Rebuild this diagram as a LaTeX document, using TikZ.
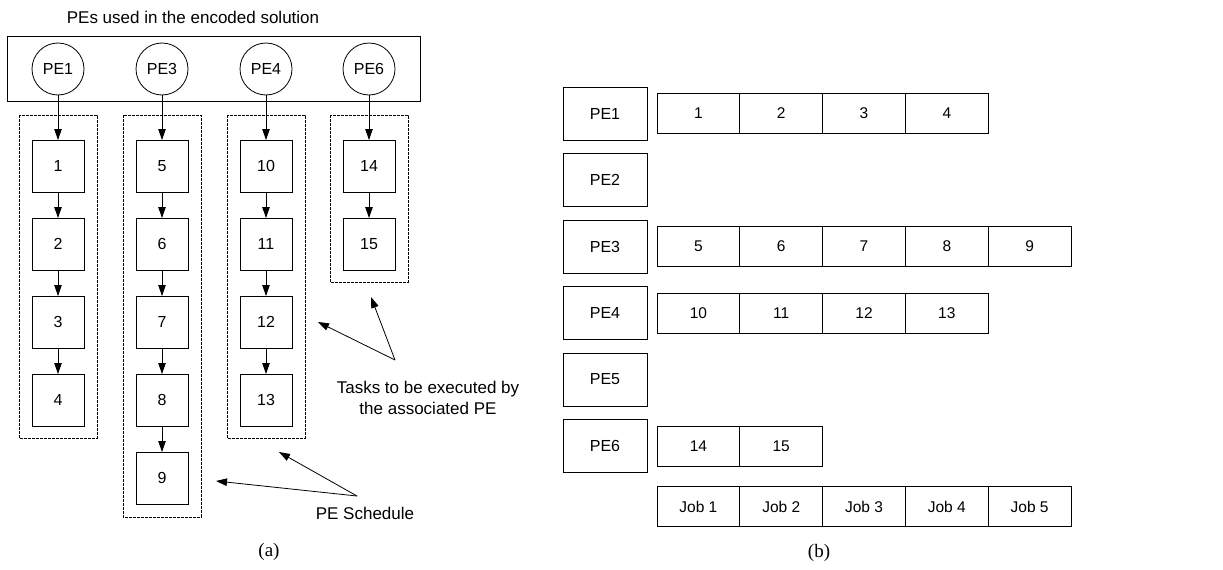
\documentclass[tikz,border=0pt]{standalone}
\usepackage{fontspec}
\setmainfont{Liberation Sans}
\newfontfamily\capfont{Liberation Serif}
\usetikzlibrary{positioning, arrows.meta}

\tikzstyle{pecircle} = [circle, minimum size=52pt, inner sep=0pt, draw=black, line width=0.8pt, font=\fontsize{16}{19}\selectfont]
\tikzstyle{task} = [rectangle, minimum width=52pt, minimum height=52pt, outer sep=0pt, draw=black, line width=0.8pt, font=\fontsize{16}{19}\selectfont]
\tikzstyle{schedbox} = [draw=black, line width=0.6pt, dash pattern=on 2.6pt off 1.4pt]
\tikzstyle{arrow} = [line width=0.8pt, -{Triangle[length=11pt,width=7.5pt]}]
\tikzstyle{pebox} = [rectangle, minimum width=84pt, minimum height=53pt, outer sep=0pt, draw=black, line width=0.8pt, font=\fontsize{16}{19}\selectfont]
\tikzstyle{slot} = [rectangle, minimum width=82.8pt, minimum height=40pt, outer sep=0pt, draw=black, line width=0.8pt, font=\fontsize{15.5}{18}\selectfont]
\tikzstyle{note} = [align=center, font=\fontsize{17}{21}\selectfont]
\tikzstyle{caption} = [font=\capfont\fontsize{19}{22}\selectfont]

\begin{document}
\begin{tikzpicture}[x=1pt, y=-1pt]
\useasboundingbox (0,0) rectangle (1223,570);

% (a) encoded solution
\node (title) [note] at (193,17) {PEs used in the encoded solution};
\node (pebar) [rectangle, draw=black, line width=0.8pt, minimum width=413pt, minimum height=65pt] at (213.5,68.5) {};

\node (pe1) [pecircle] at (58,69) {PE1};
\node (pe3) [pecircle] at (162,69) {PE3};
\node (pe4) [pecircle] at (266,69) {PE4};
\node (pe6) [pecircle] at (369,69) {PE6};

\node (t1) [task] at (58,166) {1};
\node (t2) [task, below=26pt of t1] {2};
\node (t3) [task, below=26pt of t2] {3};
\node (t4) [task, below=26pt of t3] {4};
\draw [arrow] (pe1) -- (t1);
\draw [arrow] (t1) -- (t2);
\draw [arrow] (t2) -- (t3);
\draw [arrow] (t3) -- (t4);

\node (t5) [task] at (162,166) {5};
\node (t6) [task, below=26pt of t5] {6};
\node (t7) [task, below=26pt of t6] {7};
\node (t8) [task, below=26pt of t7] {8};
\node (t9) [task, below=26pt of t8] {9};
\draw [arrow] (pe3) -- (t5);
\draw [arrow] (t5) -- (t6);
\draw [arrow] (t6) -- (t7);
\draw [arrow] (t7) -- (t8);
\draw [arrow] (t8) -- (t9);

\node (t10) [task] at (266,166) {10};
\node (t11) [task, below=26pt of t10] {11};
\node (t12) [task, below=26pt of t11] {12};
\node (t13) [task, below=26pt of t12] {13};
\draw [arrow] (pe4) -- (t10);
\draw [arrow] (t10) -- (t11);
\draw [arrow] (t11) -- (t12);
\draw [arrow] (t12) -- (t13);

\node (t14) [task] at (369,166) {14};
\node (t15) [task, below=26pt of t14] {15};
\draw [arrow] (pe6) -- (t14);
\draw [arrow] (t14) -- (t15);

\draw [schedbox] ([xshift=-13pt, yshift=25pt]t1.north west) rectangle ([xshift=13pt, yshift=-12pt]t4.south east);
\draw [schedbox] ([xshift=-13pt, yshift=25pt]t5.north west) rectangle ([xshift=13pt, yshift=-13pt]t9.south east);
\draw [schedbox] ([xshift=-13pt, yshift=25pt]t10.north west) rectangle ([xshift=13pt, yshift=-12pt]t13.south east);
\draw [schedbox] ([xshift=-13pt, yshift=25pt]t14.north west) rectangle ([xshift=13pt, yshift=-12pt]t15.south east);

\node (tasks) [note] at (428,397.5) {Tasks to be executed by\\the associated PE};
\coordinate (taskapex) at (395,360);
\coordinate (taskend1) at (318,322);
\coordinate (taskend2) at (371,297);
\draw [arrow] (taskapex) -- (taskend1);
\draw [arrow] (taskapex) -- (taskend2);

\node (sched) [note] at (365,513) {PE Schedule};
\coordinate (schedapex) at (357,496);
\coordinate (schedend1) at (216,481);
\coordinate (schedend2) at (279,452);
\draw [arrow] (schedapex) -- (schedend1);
\draw [arrow] (schedapex) -- (schedend2);

\node (capa) [caption] at (269,552) {(a)};

% (b) job table
\node (rpe1) [pebox] at (605,113.5) {PE1};
\node (rpe2) [pebox, below=13.5pt of rpe1] {PE2};
\node (rpe3) [pebox, below=13.5pt of rpe2] {PE3};
\node (rpe4) [pebox, below=13.5pt of rpe3] {PE4};
\node (rpe5) [pebox, below=13.5pt of rpe4] {PE5};
\node (rpe6) [pebox, below=13.5pt of rpe5] {PE6};

\node (c1) [slot, right=10pt of rpe1] {1};
\node (c2) [slot, right=0pt of c1] {2};
\node (c3) [slot, right=0pt of c2] {3};
\node (c4) [slot, right=0pt of c3] {4};

\node (c5) [slot, right=10pt of rpe3] {5};
\node (c6) [slot, right=0pt of c5] {6};
\node (c7) [slot, right=0pt of c6] {7};
\node (c8) [slot, right=0pt of c7] {8};
\node (c9) [slot, right=0pt of c8] {9};

\node (c10) [slot, right=10pt of rpe4] {10};
\node (c11) [slot, right=0pt of c10] {11};
\node (c12) [slot, right=0pt of c11] {12};
\node (c13) [slot, right=0pt of c12] {13};

\node (c14) [slot, right=10pt of rpe6] {14};
\node (c15) [slot, right=0pt of c14] {15};

\node (j1) [slot, below=20.5pt of c14] {Job 1};
\node (j2) [slot, right=0pt of j1] {Job 2};
\node (j3) [slot, right=0pt of j2] {Job 3};
\node (j4) [slot, right=0pt of j3] {Job 4};
\node (j5) [slot, right=0pt of j4] {Job 5};

\node (capb) [caption] at (819,553) {(b)};

\end{tikzpicture}
\end{document}
